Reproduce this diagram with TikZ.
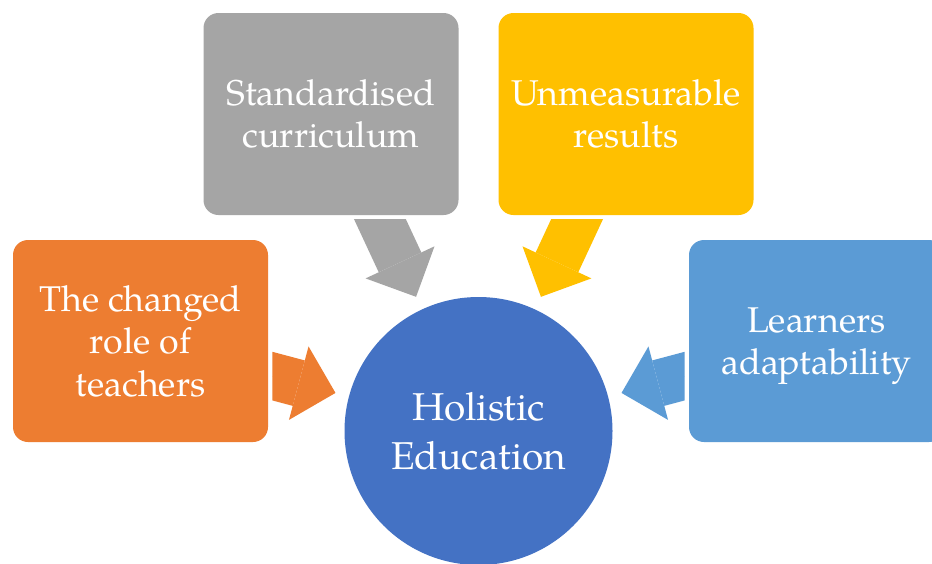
\documentclass[tikz,border=0pt]{standalone}
\usepackage{fontspec}
\setmainfont{TeX Gyre Pagella}
\usetikzlibrary{arrows.meta}
\definecolor{cOrange}{HTML}{ED7D31}
\definecolor{cGray}{HTML}{A5A5A5}
\definecolor{cYellow}{HTML}{FFC000}
\definecolor{cBlue}{HTML}{5B9BD5}
\definecolor{cDark}{HTML}{4472C4}
\begin{document}
\begin{tikzpicture}[x=1pt,y=-1pt,
  boxnode/.style={rounded corners=15pt, minimum width=255pt, minimum height=202pt,
    inner sep=0pt, text=white, align=center, font=\fontsize{35.8}{42.5}\selectfont},
  hubnode/.style={circle, minimum size=268pt, inner sep=0pt, text=white,
    align=center, font=\fontsize{38.8}{49}\selectfont},
  bigarrow/.style={line width=47pt, shorten >=148pt,
    -{Triangle[length=38pt,width=76pt,line width=0pt]}}]
\clip (0,0) rectangle (932,563);
\fill[white] (0,0) rectangle (932,563);
\node[boxnode, fill=cOrange] (ob) at (140.5,341) {The changed\\role of\\teachers};
\node[boxnode, fill=cGray] (gb) at (331,114) {Standardised\\curriculum};
\node[boxnode, fill=cYellow] (yb) at (626,114) {Unmeasurable\\results};
\node[boxnode, fill=cBlue] (bb) at (816.5,341) {Learners\\\smash{adaptability}};
\node[hubnode, fill=cDark] (hub) at (478.5,431) {Holistic\\Education};
\begin{scope}
  \clip (0,219.3) rectangle (932,563);
  \draw[bigarrow, draw=cGray, fill=cGray] (gb.center) -- (hub.center);
  \draw[bigarrow, draw=cYellow, fill=cYellow] (yb.center) -- (hub.center);
\end{scope}
\begin{scope}
  \clip (272.3,0) rectangle (684.7,563);
  \draw[bigarrow, draw=cOrange, fill=cOrange] (ob.center) -- (hub.center);
  \draw[bigarrow, draw=cBlue, fill=cBlue] (bb.center) -- (hub.center);
\end{scope}
\end{tikzpicture}
\end{document}
